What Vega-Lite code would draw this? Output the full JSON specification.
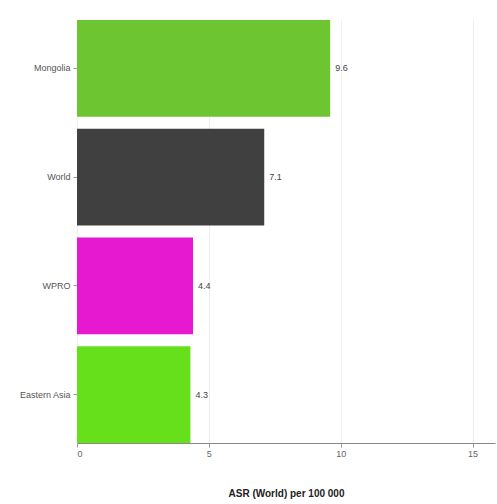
{
  "$schema": "https://vega.github.io/schema/vega-lite/v6.json",
  "autosize": {"type": "none"},
  "padding": {"left": 77, "top": 20, "right": 2, "bottom": 61},
  "width": 418,
  "height": 423,
  "background": "white",
  "config": {"view": {"stroke": null}, "font": "Liberation Sans"},
  "data": {"values": [
    {"region": "Mongolia", "asr": 9.6, "color": "#6cc531"},
    {"region": "World", "asr": 7.1, "color": "#404040"},
    {"region": "WPRO", "asr": 4.4, "color": "#e619d0"},
    {"region": "Eastern Asia", "asr": 4.3, "color": "#66e01a"}
  ]},
  "encoding": {
    "y": {"field": "region", "type": "nominal", "sort": null,
      "scale": {"paddingInner": 0.11, "paddingOuter": 0.0},
      "axis": {"title": null, "domain": false, "tickColor": "#999", "tickSize": 4, "labelFontSize": 9, "labelColor": "#555", "labelPadding": 3}},
    "x": {"field": "asr", "type": "quantitative",
      "scale": {"domain": [0, 15.85], "nice": false},
      "axis": {"title": "ASR (World) per 100 000", "titleFontSize": 10, "titleFontWeight": "bold", "titleColor": "#222", "titlePadding": 30,
        "values": [0, 5, 10, 15], "labelFontSize": 9, "labelColor": "#666", "gridColor": "#eeeeee", "domainColor": "#888", "tickColor": "#999", "tickSize": 4}}
  },
  "layer": [
    {"mark": {"type": "bar"}, "encoding": {"color": {"field": "color", "type": "nominal", "scale": null}}},
    {"mark": {"type": "text", "align": "left", "dx": 5, "fontSize": 9, "color": "#444"}, "encoding": {"text": {"field": "asr", "type": "quantitative", "format": ".1f"}}}
  ]
}
